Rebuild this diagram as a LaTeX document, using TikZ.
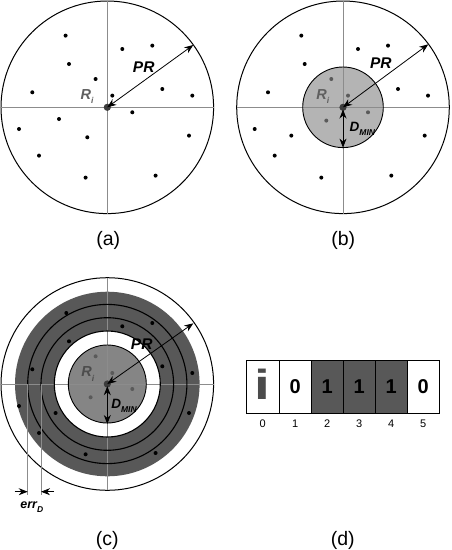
\documentclass[tikz,border=0pt]{standalone}
\usepackage{fontspec}
\setmainfont{Liberation Sans}
\usetikzlibrary{arrows.meta,calc}
\definecolor{axisgray}{HTML}{8C8C8C}
\definecolor{lightdisk}{HTML}{B4B4B4}
\definecolor{middisk}{HTML}{858585}
\definecolor{darkring}{HTML}{585858}
\definecolor{labgray}{HTML}{606060}
\definecolor{dotgray}{HTML}{5A5A5A}
\definecolor{centerdot}{HTML}{3C3C3C}
\newcommand\mysub[1]{\raisebox{-0.3em}{\fontsize{8.5}{8.5}\selectfont #1}}
\tikzset{
  axisline/.style={draw=axisgray, line width=0.8pt},
  bigcircle/.style={draw=black, line width=1pt},
  pt/.style={fill=black},
  ptgray/.style={fill=dotgray},
  dblarrow/.style={line width=0.8pt, {Stealth[length=9pt,width=7pt]}-{Stealth[length=9pt,width=7pt]}},
  onearrow/.style={line width=0.8pt, -{Stealth[length=9pt,width=7pt]}},
  biglab/.style={font=\bfseries\itshape\fontsize{15.5}{15.5}\selectfont, anchor=base, inner sep=0pt},
  rlab/.style={font=\bfseries\itshape\fontsize{14.5}{14.5}\selectfont, anchor=base west, inner sep=0pt},
  dlab/.style={font=\bfseries\itshape\fontsize{13.5}{13.5}\selectfont, anchor=base west, inner sep=0pt},
  caption/.style={font=\fontsize{19.5}{19.5}\selectfont, anchor=base, inner sep=0pt},
  cell/.style={draw=black, line width=0.8pt},
  digit/.style={font=\bfseries\fontsize{20}{20}\selectfont, anchor=base, inner sep=0pt},
  idx/.style={font=\fontsize{11}{11}\selectfont, anchor=base, inner sep=0pt}
}
\begin{document}
\begin{tikzpicture}[x=1pt,y=-1pt]
\useasboundingbox (0,0) rectangle (451,550);

% ================= (a) =================
\coordinate (ca) at (107.3,107.3);
\draw[bigcircle] (ca) circle[radius=106.3];
\draw[axisline] (1,107.3) -- (213.6,107.3);
\draw[axisline] (107.3,1) -- (107.3,213.6);
\foreach \dx/\dy in {-41.7/-71.7,15/-58.3,45/-61.7,-38.3/-43.3,-11.7/-28.3,-75/-15,5/-11.7,55/-18.3,85/-11.7,25/5,-48.3/11.7,-88.3/21.7,-20/30,81.7/28.3,-68.3/48.3,-21.7/70.3,48.3/68.3}
  \fill[pt] ($(ca)+(\dx,\dy)$) circle[radius=2];
\fill[centerdot] (ca) circle[radius=3.6];
\coordinate (pra) at (193.3,45);
\draw[dblarrow] (ca) -- (pra);
\node[biglab] (PRa) at (143.7,72.7) {PR};
\node[rlab, text=labgray] (Ria) at (80.5,99.3) {R\mysub{i}};
\node[caption] (capa) at (108.3,245.5) {(a)};

% ================= (b) =================
\coordinate (cb) at (343,107.3);
\draw[bigcircle] (cb) circle[radius=106.3];
\fill[lightdisk] (cb) circle[radius=40.3];
\draw[axisline] (236.7,107.3) -- (449.3,107.3);
\draw[axisline] (343,1) -- (343,213.6);
\draw[line width=0.9pt] (cb) circle[radius=40.3];
\foreach \dx/\dy in {-41.7/-71.7,15/-58.3,45/-61.7,-38.3/-43.3,-75/-15,55/-18.3,85/-11.7,-51.7/28.3,-88.3/21.7,81.7/28.3,-68.3/48.3,-21.7/70.3,48.3/68.3}
  \fill[pt] ($(cb)+(\dx,\dy)$) circle[radius=2];
\foreach \dx/\dy in {-11.7/-28.3,5/-11.7,25/5,-16.7/13.3}
  \fill[ptgray] ($(cb)+(\dx,\dy)$) circle[radius=2];
\fill[centerdot] (cb) circle[radius=3.6];
\coordinate (prb) at (428.3,44.3);
\draw[dblarrow] (cb) -- (prb);
\coordinate (dmb) at (343,147.6);
\draw[dblarrow] (343,109.5) -- (dmb);
\node[biglab] (PRb) at (380.8,68.3) {PR};
\node[rlab, text=labgray] (Rib) at (316.2,99.3) {R\mysub{i}};
\node[dlab] (Db) at (349.5,131.7) {D\mysub{MIN}};
\node[caption] (capb) at (343.3,245.5) {(b)};

% ================= (c) =================
\coordinate (cc) at (107.3,384);
\draw[bigcircle] (cc) circle[radius=106.3];
\fill[darkring] (cc) circle[radius=92.3];
\fill[white] (cc) circle[radius=53];
\fill[middisk] (cc) circle[radius=39];
\draw[axisline] (1,384) -- (213.6,384);
\draw[axisline] (107.3,277.7) -- (107.3,490.3);
\foreach \r in {79.6,66.3,53}
  \draw[line width=1.1pt] (cc) circle[radius=\r];
\draw[line width=0.9pt] (cc) circle[radius=39];
\foreach \dx/\dy in {-41/-71,15/-57.7,45/-61,-38.3/-42.7,-75/-14.7,55/-17.7,85/-11,-51.7/29,-88.3/22,81.7/29,-68.3/49,-21.7/70.3,48.3/69}
  \fill[pt] ($(cc)+(\dx,\dy)$) circle[radius=2];
\foreach \dx/\dy in {-11.7/-27.7,5/-11,25/5,-16.7/13.3}
  \fill[ptgray] ($(cc)+(\dx,\dy)$) circle[radius=2];
\fill[centerdot] (cc) circle[radius=3.6];
\coordinate (prc) at (193.3,323.3);
\draw[dblarrow] (cc) -- (prc);
\coordinate (dmc) at (107.3,424);
\draw[dblarrow] (107.3,386.2) -- (dmc);
\node[biglab] (PRc) at (141.7,349) {PR};
\node[rlab, text=labgray!80!black] (Ric) at (81.2,376.7) {R\mysub{i}};
\node[dlab] (Dc) at (111.2,408.3) {D\mysub{MIN}};
% err_D
\coordinate (e1) at (27.7,495);
\coordinate (e2) at (41,495);
\draw[axisline] (27.7,384) -- (e1);
\draw[axisline] (41,384) -- (e2);
\coordinate (ea) at (14.5,491.7);
\coordinate (eb) at (27.7,491.7);
\coordinate (ec) at (54,491.7);
\coordinate (ed) at (41,491.7);
\draw[onearrow] (ea) -- (eb);
\draw[onearrow] (ec) -- (ed);
\node[dlab, font=\bfseries\itshape\fontsize{12.5}{12.5}\selectfont] (errd) at (20.2,508.3) {err\mysub{D}};
\node[caption] (capc) at (107.3,545.3) {(c)};

% ================= (d) =================
\foreach \i/\xa/\xb in {0/246.7/279,1/279/311.3,2/311.3/343.3,3/343.3/375.3,4/375.3/407.3,5/407.3/439.3}{
  \coordinate (cl\i) at (\xa,360);
  \coordinate (cr\i) at (\xb,413.3);
}
\fill[darkring] (cl2) rectangle (cr4);
\foreach \i in {0,...,5}
  \draw[cell] (cl\i) rectangle (cr\i);
\node[font=\bfseries\fontsize{42}{42}\selectfont, text=darkring!85!black, anchor=base, inner sep=0pt, xscale=1.35] (ibig) at (262.8,399.3) {i};
\node[digit] (d1) at (295.2,393.5) {0};
\node[digit] (d2) at (327.3,393.5) {1};
\node[digit] (d3) at (359.3,393.5) {1};
\node[digit] (d4) at (391.3,393.5) {1};
\node[digit] (d5) at (423.3,393.5) {0};
\foreach \i/\x in {0/262.8,1/295.2,2/327.3,3/359.3,4/391.3,5/423.3}
  \node[idx] (ix\i) at (\x,427.5) {\i};
\node[caption] (capd) at (342.8,545.3) {(d)};
\end{tikzpicture}
\end{document}
